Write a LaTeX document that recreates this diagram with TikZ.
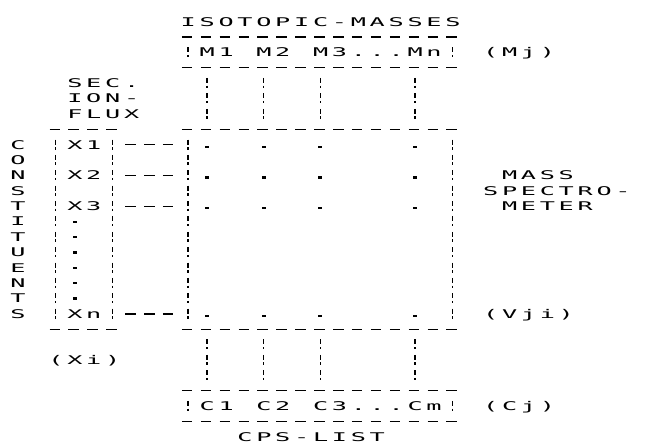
\documentclass[tikz,border=0pt]{standalone}
\usepackage{fontspec}
\usepackage{graphicx}
\newfontfamily\dotfont{DejaVu Sans Mono}
\usetikzlibrary{calc}
% one printer cell per character
\newlength\cellw \setlength\cellw{18.9pt}
\def\gtend{\gtend}
\newcommand\gt[1]{\gtloop#1\gtend}
\def\gtloop#1{\ifx#1\gtend\else\makebox[\cellw]{\scalebox{2.1}[1]{#1}}\expandafter\gtloop\fi}
\tikzset{
  txt/.style={inner sep=0pt, anchor=west, text height=8.7pt, text depth=0pt,
              font=\dotfont\fontsize{12}{12}\selectfont},
  chr/.style={txt, anchor=center},
  rule/.style={line width=1.2pt, dash pattern=on 10.5pt off 8.4pt},
  bar/.style={line width=1.3pt, dash pattern=on 5pt off 2.6pt on 2.4pt off 5.38pt},
  mdot/.style={fill, inner sep=0pt, minimum width=4pt, minimum height=2.2pt},
}
\begin{document}
\begin{tikzpicture}[x=18.9pt, y=-15.38pt]
  \useasboundingbox (-0.952,-1.411) rectangle (34.18,27.523);
  % isotopic masses
  \node[txt] (iso) at (8.5,0) {\gt{ISOTOPIC-MASSES}};
  \draw[rule] (8.67,1) -- (23.5,1);
  \node[txt] (mlist) at (9.5,2) {\gt{M1~M2~M3...Mn}};
  \draw[bar] (9,1.66) -- (9,2.5); \draw[bar] (23,1.66) -- (23,2.5);
  \node[txt] (mj) at (24.5,2) {\gt{(Mj)}};
  \draw[rule] (8.67,3) -- (23.5,3);
  \foreach \c in {10,13,16,21} {
    \draw[bar] (\c,3.66) -- (\c,6.5);
    \draw[bar] (\c,20.66) -- (\c,23.5);
  }

  % secondary ion flux
  \node[txt] (sec) at (2.5,4) {\gt{SEC.}};
  \node[txt] (ion) at (2.5,5) {\gt{ION-}};
  \node[txt] (flux) at (2.5,6) {\gt{FLUX}};
  \draw[rule] (1.67,7) -- (5.5,7);
  \draw[rule] (8.67,7) -- (23.5,7);
  \foreach \c in {2,5,9,23}
    \draw[bar] (\c,7.66) -- (\c,19.5);
  \foreach \ch [count=\k from 8] in {C,O,N,S,T,I,T,U,E,N,T,S}
    \node[chr] (cons\k) at (0,\k) {\gt{\ch}};
  \node[txt] (x1) at (2.5,8) {\gt{X1}};
  \node[txt] (x2) at (2.5,10) {\gt{X2}};
  \node[txt] (x3) at (2.5,12) {\gt{X3}};
  \foreach \k in {13,...,18}
    \node[mdot] (xd\k) at (3,\k) {};
  \node[txt] (xn) at (2.5,19) {\gt{Xn}};
  \coordinate (xboxR) at (5.67,8);
  \coordinate (msL) at (8.5,8);
  \foreach \n in {x1,x2,x3,xn}
    \draw[rule] (\n -| xboxR) -- (\n -| msL);
  \foreach \r in {8,10,12,19}
    \foreach \c in {10,13,16,21}
      \node[mdot] (v\c-\r) at (\c,\r+0.13) {};
  \draw[rule] (1.67,20) -- (5.5,20);
  \draw[rule] (8.67,20) -- (23.5,20);
  \node[txt] (xi) at (1.5,22) {\gt{(Xi)}};

  % mass spectrometer
  \node[txt] (mass) at (25.5,10) {\gt{MASS}};
  \node[txt] (spec) at (24.5,11) {\gt{SPECTRO-}};
  \node[txt] (meter) at (25.5,12) {\gt{METER}};
  \node[txt] (vji) at (24.5,19) {\gt{(Vji)}};

  % cps list
  \draw[rule] (8.67,24) -- (23.5,24);
  \draw[bar] (9,24.66) -- (9,25.5); \draw[bar] (23,24.66) -- (23,25.5);
  \node[txt] (clist) at (9.5,25) {\gt{C1~C2~C3...Cm}};
  \node[txt] (cj) at (24.5,25) {\gt{(Cj)}};
  \draw[rule] (8.67,26) -- (23.5,26);
  \node[txt] (cps) at (11.5,27) {\gt{CPS-LIST}};
\end{tikzpicture}
\end{document}
